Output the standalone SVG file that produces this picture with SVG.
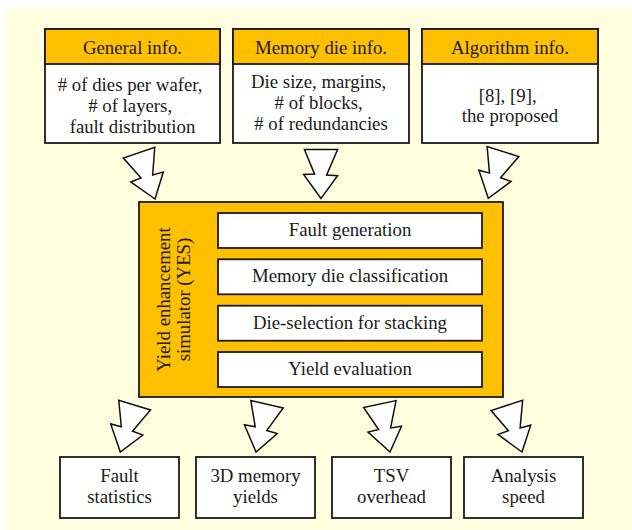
<svg xmlns="http://www.w3.org/2000/svg" xmlns:xlink="http://www.w3.org/1999/xlink" width="632" height="530" viewBox="0 0 632 530">
<style>
text{font-family:"Liberation Serif","Times New Roman",serif;font-size:18.8px;fill:#1a1a1a;text-anchor:middle}
.box{fill:#fff;stroke:#1a1a1a;stroke-width:1.8}
.hdr{fill:#FFC000;stroke:#1a1a1a;stroke-width:1.8}
.arr{fill:#fff;stroke:#111;stroke-width:1.5;stroke-linejoin:miter}
</style>
<defs>
<path id="zz" d="M0,0 L-17.4,-24 L-6.4,-24.4 L-16.6,-49 L16.6,-49 L5.6,-23.4 L16.6,-22.8 Z"/>
</defs>
<rect x="6" y="8" width="626" height="522" fill="#FFFFE0"/>

<g id="general">
<rect class="box" x="45" y="29" width="175" height="114"/>
<rect class="hdr" x="45" y="29" width="175" height="35"/>
<text x="132.5" y="53.5">General info.</text>
<text x="132.5" y="90.5">
<tspan x="132.5" y="90.5"># of dies per wafer,</tspan>
<tspan x="132.5" y="111.5"># of layers,</tspan>
<tspan x="132.5" y="132.5">fault distribution</tspan>
</text>
</g>

<g id="memory">
<rect class="box" x="233" y="29" width="176" height="114"/>
<rect class="hdr" x="233" y="29" width="176" height="35"/>
<text x="321" y="53.5">Memory die info.</text>
<text x="321" y="87.5">
<tspan x="321" y="87.5">Die size, margins,</tspan>
<tspan x="321" y="108.5"># of blocks,</tspan>
<tspan x="321" y="129.5"># of redundancies</tspan>
</text>
</g>

<g id="algorithm">
<rect class="box" x="422" y="29" width="176" height="114"/>
<rect class="hdr" x="422" y="29" width="176" height="35"/>
<text x="510" y="53.5">Algorithm info.</text>
<text x="510" y="101.5">
<tspan x="510" y="101.5">[8], [9],</tspan>
<tspan x="510" y="122">the proposed</tspan>
</text>
</g>

<g id="yes">
<rect class="hdr" x="139" y="202" width="364" height="195"/>
<text transform="translate(170,299.5) rotate(-90)">Yield enhancement</text>
<text transform="translate(190,299.5) rotate(-90)">simulator (YES)</text>
</g>

<g id="fault-generation">
<rect class="box" x="218" y="213" width="264" height="35"/>
<text x="350" y="236">Fault generation</text>
</g>
<g id="classification">
<rect class="box" x="218" y="259.3" width="264" height="35"/>
<text x="350" y="282.3">Memory die classification</text>
</g>
<g id="die-selection">
<rect class="box" x="218" y="305.7" width="264" height="35"/>
<text x="350" y="328.7">Die-selection for stacking</text>
</g>
<g id="yield-evaluation">
<rect class="box" x="218" y="352" width="264" height="35"/>
<text x="350" y="375">Yield evaluation</text>
</g>

<g id="fault-statistics">
<rect class="box" x="60" y="457" width="119" height="61"/>
<text x="119.5" y="481.5"><tspan x="119.5" y="481.5">Fault</tspan><tspan x="119.5" y="502.5">statistics</tspan></text>
</g>
<g id="memory-yields">
<rect class="box" x="196" y="457" width="119" height="61"/>
<text x="255.5" y="481.5"><tspan x="255.5" y="481.5">3D memory</tspan><tspan x="255.5" y="502.5">yields</tspan></text>
</g>
<g id="tsv-overhead">
<rect class="box" x="332" y="457" width="119" height="61"/>
<text x="391.5" y="481.5"><tspan x="391.5" y="481.5">TSV</tspan><tspan x="391.5" y="502.5">overhead</tspan></text>
</g>
<g id="analysis-speed">
<rect class="box" x="464" y="457" width="119" height="61"/>
<text x="523.5" y="481.5"><tspan x="523.5" y="481.5">Analysis</tspan><tspan x="523.5" y="502.5">speed</tspan></text>
</g>

<g id="connectors">
<use class="arr" xlink:href="#zz" href="#zz" transform="translate(155,199) rotate(-19)"/>
<use class="arr" xlink:href="#zz" href="#zz" transform="translate(321,198.5)"/>
<use class="arr" xlink:href="#zz" href="#zz" transform="translate(488.3,198.3) rotate(17.4)"/>
<use class="arr" xlink:href="#zz" href="#zz" transform="translate(120.3,452) rotate(17)"/>
<use class="arr" xlink:href="#zz" href="#zz" transform="translate(256,452) rotate(13)"/>
<use class="arr" xlink:href="#zz" href="#zz" transform="translate(390,452) rotate(-12)"/>
<use class="arr" xlink:href="#zz" href="#zz" transform="translate(522,452) rotate(-18)"/>
</g>
</svg>
